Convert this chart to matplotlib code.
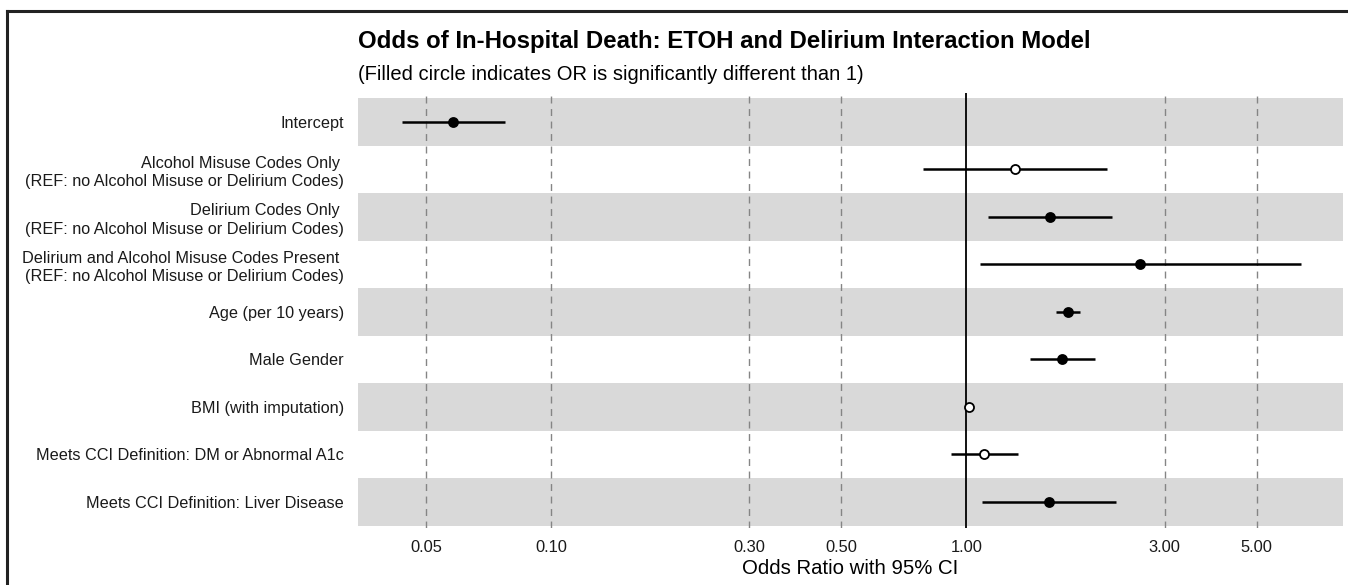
import matplotlib
matplotlib.use("Agg")
import matplotlib.pyplot as plt
from matplotlib.lines import Line2D
import numpy as np

plt.rcParams['font.family'] = ['Liberation Sans', 'DejaVu Sans']

labels = [
    "Intercept",
    "Alcohol Misuse Codes Only \n(REF: no Alcohol Misuse or Delirium Codes)",
    "Delirium Codes Only \n(REF: no Alcohol Misuse or Delirium Codes)",
    "Delirium and Alcohol Misuse Codes Present \n(REF: no Alcohol Misuse or Delirium Codes)",
    "Age (per 10 years)",
    "Male Gender",
    "BMI (with imputation)",
    "Meets CCI Definition: DM or Abnormal A1c",
    "Meets CCI Definition: Liver Disease",
]
odds_ratio = [0.058, 1.307, 1.586, 2.626, 1.760, 1.700, 1.014, 1.104, 1.583]
ci_low = [0.0438, 0.788, 1.127, 1.077, 1.646, 1.422, 1.006, 0.921, 1.093]
ci_high = [0.0774, 2.175, 2.239, 6.40, 1.883, 2.043, 1.022, 1.330, 2.291]
significant = [True, False, True, True, True, True, False, False, True]
x_ticks = [0.05, 0.10, 0.30, 0.50, 1.00, 3.00, 5.00]
x_tick_labels = ["0.05", "0.10", "0.30", "0.50", "1.00", "3.00", "5.00"]

W, H = 1348, 585
fig = plt.figure(figsize=(W / 100, H / 100), dpi=100)
ax = fig.add_axes([358 / W, 1 - 528 / H, (1343 - 358) / W, (528 - 93) / H])

n = len(labels)
ypos = np.arange(n)

for i in range(0, n, 2):
    ax.axhspan(i - 0.5, i + 0.5, color="#d9d9d9", lw=0, zorder=0)

ax.set_xscale("log")
ax.set_xlim(0.0343, 8.07)
ax.set_ylim(n - 0.5 + 0.05, -0.5 - 0.105)

for xt in x_ticks:
    if xt == 1.0:
        continue
    ax.axvline(xt, color="#858585", lw=1.0, dashes=(5, 4), zorder=1)
ax.axvline(1.0, color="black", lw=1.3, zorder=2)

for i in range(n):
    ax.plot([ci_low[i], ci_high[i]], [ypos[i], ypos[i]], color="black",
            lw=1.8, solid_capstyle="butt", zorder=3)
    ax.plot([odds_ratio[i]], [ypos[i]], marker="o", ms=6.5,
            mfc="black" if significant[i] else "white", mec="black",
            mew=1.3, zorder=4)

ax.set_xticks(x_ticks)
ax.set_xticklabels(x_tick_labels, fontsize=11.9)
ax.xaxis.set_minor_locator(matplotlib.ticker.NullLocator())
ax.set_yticks(ypos)
ax.set_yticklabels(labels, fontsize=11.7, linespacing=1.3)
ax.tick_params(axis="both", length=0, colors="#1a1a1a")
ax.tick_params(axis="x", pad=9)
ax.tick_params(axis="y", pad=10)
for s in ax.spines.values():
    s.set_visible(False)

ax.set_xlabel("Odds Ratio with 95% CI", fontsize=14.7, labelpad=2.5)

fig.text(358 / W, 1 - 48 / H, "Odds of In-Hospital Death: ETOH and Delirium Interaction Model",
         fontsize=17.3, fontweight="bold", ha="left", va="baseline")
fig.text(358 / W, 1 - 80 / H, "(Filled circle indicates OR is significantly different than 1)",
         fontsize=14.5, ha="left", va="baseline")

fig.add_artist(Line2D([7 / W, 1.0], [1 - 11 / H, 1 - 11 / H], color="#222222", lw=2.2,
                      transform=fig.transFigure))
fig.add_artist(Line2D([7 / W, 7 / W], [1 - 11 / H, 0.0], color="#222222", lw=2.2,
                      transform=fig.transFigure))

fig.savefig("out.png", dpi=100)
